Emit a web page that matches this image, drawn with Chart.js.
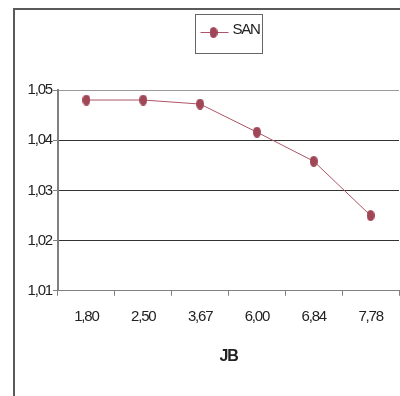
<!DOCTYPE html>
<html>
<head>
<meta charset="utf-8">
<script src="https://cdn.jsdelivr.net/npm/chart.js@4/dist/chart.umd.min.js"></script>
<style>
  html, body { margin: 0; padding: 0; background: #fff; overflow: hidden; }
  #frame { position: absolute; left: 13px; top: 8px; width: 420px; height: 420px;
           border-left: 2px solid #5a5a5a; border-top: 2px solid #5a5a5a; }
  #wrap { position: absolute; left: 0; top: 0; width: 400px; height: 396px; overflow: hidden; }
  #c { position: absolute; left: 0; top: 0; }
</style>
</head>
<body>
<div id="frame"></div>
<div id="wrap"><canvas id="c" width="405" height="396"></canvas></div>
<script>
// JB categories and SAN series
const categories = ['1,80', '2,50', '3,67', '6,00', '6,84', '7,78'];
const sanValues = [1.048, 1.048, 1.0472, 1.0416, 1.0358, 1.025];
const yTicks = [1.01, 1.02, 1.03, 1.04, 1.05];
const seriesName = 'SAN';
const axisTitle = 'JB';

const LINE = '#ad5566';
const DOT = '#a04656';
const FONT = "'Liberation Sans', Arial, sans-serif";

// Slightly tall elliptical marker
function makeMarker(w, h) {
  const cv = document.createElement('canvas');
  cv.width = w; cv.height = h;
  const g = cv.getContext('2d');
  g.fillStyle = DOT;
  g.beginPath();
  g.ellipse(w / 2, h / 2, w / 2, h / 2, 0, 0, Math.PI * 2);
  g.fill();
  return cv;
}
const marker = makeMarker(8, 11);

// Tight lettering for all canvas text
const tightText = {
  id: 'tightText',
  beforeUpdate(chart) { chart.ctx.letterSpacing = '-1.2px'; },
  beforeDraw(chart) { chart.ctx.letterSpacing = '-1.2px'; }
};

// Boxed legend centred above the plot
const boxedLegend = {
  id: 'boxedLegend',
  afterDraw(chart) {
    const ctx = chart.ctx;
    const area = chart.chartArea;
    const cx = (area.left + area.right) / 2;
    const bx = Math.round(cx - 34) + 0.5, by = 14.5, bw = 67, bh = 39;
    ctx.save();
    ctx.strokeStyle = '#666';
    ctx.lineWidth = 1;
    ctx.strokeRect(bx, by, bw, bh);
    const ly = 32.5;
    ctx.strokeStyle = LINE;
    ctx.beginPath();
    ctx.moveTo(bx + 5, ly);
    ctx.lineTo(bx + 33, ly);
    ctx.stroke();
    ctx.drawImage(marker, bx + 18 - 4, ly - 5.5);
    ctx.letterSpacing = '-1.2px';
    ctx.fillStyle = '#222';
    ctx.font = '15px ' + FONT;
    ctx.textBaseline = 'middle';
    ctx.textAlign = 'left';
    ctx.fillText(seriesName, bx + 37, 29.5);
    ctx.restore();
  }
};

new Chart(document.getElementById('c'), {
  type: 'line',
  data: {
    labels: categories,
    datasets: [{
      label: seriesName,
      data: sanValues,
      borderColor: LINE,
      borderWidth: 1,
      pointStyle: marker,
      pointRadius: 5,
      pointHoverRadius: 5,
      tension: 0,
      fill: false
    }]
  },
  options: {
    responsive: false,
    animation: false,
    devicePixelRatio: 1,
    layout: { padding: { top: 90, left: 0, right: 0, bottom: 26 } },
    plugins: { legend: { display: false }, tooltip: { enabled: false } },
    scales: {
      x: {
        offset: true,
        grid: { offset: true, drawOnChartArea: false, drawTicks: true, tickLength: 5, color: '#808080' },
        border: { color: '#808080', width: 1 },
        ticks: { color: '#222', font: { family: FONT, size: 15 }, padding: 12, maxRotation: 0 },
        title: { display: true, text: axisTitle, color: '#222',
                 font: { family: FONT, size: 16, weight: 'bold' }, padding: { top: 9, bottom: 4 } }
      },
      y: {
        min: 1.01, max: 1.05,
        afterFit(s) { s.width = 58; },
        afterBuildTicks(s) { s.ticks = yTicks.map(v => ({ value: v })); },
        grid: {
          color: ctx => (ctx.tick && Math.abs(ctx.tick.value - 1.05) < 1e-9) ? '#9a9a9a' : '#333',
          tickColor: '#808080',
          tickLength: 5
        },
        border: { color: '#808080', width: 2 },
        ticks: {
          color: '#222', font: { family: FONT, size: 15 }, padding: 1,
          callback: v => Number(v).toFixed(2).replace('.', ',')
        }
      }
    }
  },
  plugins: [tightText, boxedLegend]
});
</script>
</body>
</html>
